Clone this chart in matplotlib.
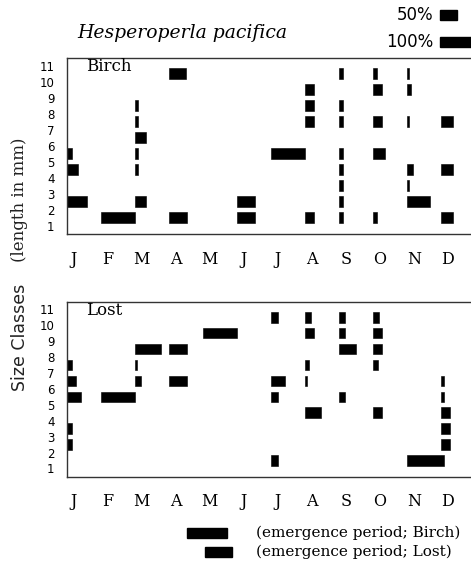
import matplotlib
matplotlib.use("Agg")
import matplotlib.pyplot as plt
import matplotlib.patches as patches

# bulan (label sumbu x)
months = ['J', 'F', 'M', 'A', 'M', 'J', 'J', 'A', 'S', 'O', 'N', 'D']
size_ticks = list(range(1, 12))

# Birch: bulan (0=Jan), kelas ukuran, proporsi (1.0 = 100%)
birch_month = [0, 0, 0,
               1,
               2, 2, 2, 2, 2, 2,
               3, 3,
               5, 5,
               6,
               7, 7, 7, 7,
               8, 8, 8, 8, 8, 8, 8, 8,
               9, 9, 9, 9, 9,
               10, 10, 10, 10, 10, 10,
               11, 11, 11]
birch_size = [5, 4, 2,
              1,
              8, 7, 6, 5, 4, 2,
              10, 1,
              2, 1,
              5,
              9, 8, 7, 1,
              10, 8, 7, 5, 4, 3, 2, 1,
              10, 9, 7, 5, 1,
              10, 9, 7, 4, 3, 2,
              7, 4, 1]
birch_pct = [0.15, 0.31, 0.58,
             1.0,
             0.10, 0.10, 0.33, 0.10, 0.10, 0.33,
             0.50, 0.52,
             0.53, 0.53,
             1.0,
             0.25, 0.25, 0.25, 0.27,
             0.13, 0.13, 0.13, 0.13, 0.13, 0.13, 0.13, 0.13,
             0.13, 0.25, 0.25, 0.35, 0.12,
             0.07, 0.13, 0.07, 0.17, 0.07, 0.68,
             0.36, 0.36, 0.36]

# Lost
lost_month = [0, 0, 0, 0, 0,
              1,
              2, 2, 2,
              3, 3,
              4,
              6, 6, 6, 6,
              7, 7, 7, 7, 7,
              8, 8, 8, 8,
              9, 9, 9, 9, 9,
              10,
              11, 11, 11, 11, 11]
lost_size = [7, 6, 5, 3, 2,
             5,
             8, 7, 6,
             8, 6,
             9,
             10, 6, 5, 1,
             10, 9, 7, 6, 4,
             10, 9, 8, 5,
             10, 9, 8, 7, 4,
             1,
             6, 5, 4, 3, 2]
lost_pct = [0.15, 0.26, 0.41, 0.15, 0.15,
            1.0,
            0.75, 0.07, 0.18,
            0.52, 0.52,
            1.0,
            0.22, 0.42, 0.22, 0.22,
            0.18, 0.27, 0.11, 0.06, 0.47,
            0.18, 0.18, 0.50, 0.18,
            0.17, 0.25, 0.25, 0.15, 0.25,
            1.1,
            0.10, 0.10, 0.26, 0.26, 0.26]

serif = 'DejaVu Serif'
sans = 'DejaVu Sans'

fig = plt.figure(figsize=(4.71, 5.62), dpi=100)

ax_w = 408 / 471
ax_b = fig.add_axes([67 / 471, 0.5836, ax_w, 0.3132])
ax_l = fig.add_axes([67 / 471, 0.1518, ax_w, 0.3114])


def draw_panel(ax, m, s, p, name):
    ax.barh([v + 0.5 for v in s], p, left=m, height=0.66,
            color='black', edgecolor='black', linewidth=0.4, align='center')
    ax.set_xlim(0, 12)
    ax.set_ylim(0.48, 11.48)
    ax.set_yticks(size_ticks)
    ax.set_yticklabels([str(v) for v in size_ticks], fontsize=8.5, family=sans)
    ax.set_xticks([i + 0.2 for i in range(12)])
    ax.set_xticklabels(months, fontsize=11.5, family=serif)
    ax.tick_params(length=0, axis='y', pad=9)
    ax.tick_params(length=0, axis='x', pad=12)
    for sp in ax.spines.values():
        sp.set_color('#333333')
        sp.set_linewidth(1.0)
    ax.text(0.55, 10.95, name, fontsize=12, family=serif, va='center')


draw_panel(ax_b, birch_month, birch_size, birch_pct, 'Birch')
draw_panel(ax_l, lost_month, lost_size, lost_pct, 'Lost')

# judul
fig.text(77 / 471, 0.942, 'Hesperoperla pacifica', fontsize=13.5,
         family=serif, style='italic', va='center')

# label sumbu y (dua font seperti aslinya)
fig.text(20 / 471, 1 - 337 / 562, 'Size Classes', rotation=90, fontsize=12.5,
         family=sans, ha='center', va='center', color='#222222')
fig.text(20 / 471, 1 - 200 / 562, '(length in mm)', rotation=90, fontsize=12,
         family=serif, ha='center', va='center', color='#222222')

# skala 50% / 100%
unit = ax_w / 12
for pct, lbl, yc in [(0.5, '50%', 0.973), (1.0, '100%', 0.926)]:
    fig.text(433 / 471, yc, lbl, fontsize=12, family=sans, ha='right', va='center')
    fig.add_artist(patches.Rectangle((440 / 471, yc - 0.0089), pct * unit, 0.0178,
                                     transform=fig.transFigure, color='black'))

# legenda periode emergence
fig.add_artist(patches.Rectangle((186.7 / 471, 0.0427), 40 / 471, 0.0178,
                                 transform=fig.transFigure, color='black'))
fig.text(256 / 471, 0.0516, '(emergence period; Birch)', fontsize=11,
         family=serif, va='center')
fig.add_artist(patches.Rectangle((205 / 471, 0.0089), 27 / 471, 0.0178,
                                 transform=fig.transFigure, color='black'))
fig.text(256 / 471, 0.0178, '(emergence period; Lost)', fontsize=11,
         family=serif, va='center')

fig.savefig('out.png', dpi=100)
